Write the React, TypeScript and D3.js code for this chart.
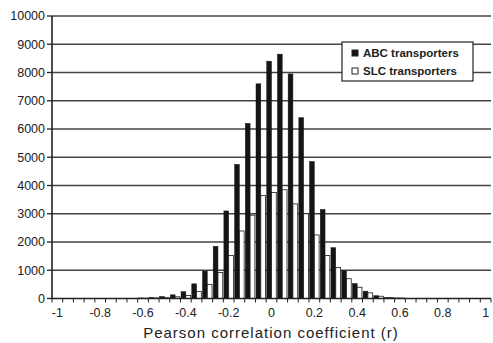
import React from 'react';
import * as d3 from 'd3';

// bin centres of Pearson r, step 0.05
const bins = [
  -1, -0.95, -0.9, -0.85, -0.8, -0.75, -0.7, -0.65, -0.6, -0.55, -0.5, -0.45, -0.4, -0.35,
  -0.3, -0.25, -0.2, -0.15, -0.1, -0.05, 0, 0.05, 0.1, 0.15, 0.2, 0.25, 0.3, 0.35, 0.4,
  0.45, 0.5, 0.55, 0.6, 0.65, 0.7, 0.75, 0.8, 0.85, 0.9, 0.95, 1,
];
const abcCounts = [
  0, 0, 0, 0, 0, 0, 0, 5, 20, 40, 70, 130, 240, 520,
  970, 1850, 3100, 4750, 6200, 7600, 8400, 8650, 7950, 6400, 4850, 3150, 1800, 980, 530,
  260, 100, 40, 20, 5, 0, 0, 0, 0, 0, 0, 0,
];
const slcCounts = [
  0, 0, 0, 0, 0, 0, 0, 3, 10, 20, 30, 60, 110, 250,
  500, 920, 1520, 2390, 2950, 3650, 3750, 3850, 3350, 3000, 2250, 1520, 1100, 700, 400,
  200, 80, 30, 15, 3, 0, 0, 0, 0, 0, 0, 0,
];
const seriesNames = ['ABC transporters', 'SLC transporters'];
const yTicks = [0, 1000, 2000, 3000, 4000, 5000, 6000, 7000, 8000, 9000, 10000];
const xLabels = ['-1', '-0.8', '-0.6', '-0.4', '-0.2', '0', '0.2', '0.4', '0.6', '0.8', '1'];

const W = 493;
const H = 343;
const margin = { left: 52, right: 2, top: 16, bottom: 44.5 };
const font = 'Arial, "Liberation Sans", sans-serif';

export default function App() {
  const x0 = d3.scaleBand<number>()
    .domain(d3.range(bins.length))
    .range([margin.left, W - margin.right])
    .padding(0);
  const groupW = x0.bandwidth() / 1.12;
  const x1 = d3.scaleBand<string>()
    .domain(seriesNames)
    .range([(x0.bandwidth() - groupW) / 2, (x0.bandwidth() + groupW) / 2]);
  const y = d3.scaleLinear().domain([0, 10000]).range([H - margin.bottom, margin.top]);

  const plotL = margin.left;
  const plotR = W - margin.right;
  const baseY = y(0);
  const series = [abcCounts, slcCounts];

  return (
    <svg width={W} height={H} style={{ position: 'absolute', left: 0, top: 0, background: '#fff' }}>
      {/* grid lines */}
      {yTicks.filter((t) => t > 0).map((t) => (
        <line key={t} x1={plotL} x2={plotR} y1={y(t)} y2={y(t)} stroke="#444" strokeWidth={1.5} />
      ))}
      {/* bars */}
      {bins.map((b, i) => (
        <g key={b} transform={`translate(${x0(i)},0)`}>
          {series.map((vals, s) => {
            const v = vals[i];
            if (v <= 0) return null;
            return (
              <rect
                key={s}
                x={x1(seriesNames[s])}
                y={y(v)}
                width={x1.bandwidth()}
                height={baseY - y(v)}
                fill={s === 0 ? '#141414' : '#ffffff'}
                stroke="#1a1a1a"
                strokeWidth={s === 0 ? 0.5 : 0.8}
              />
            );
          })}
        </g>
      ))}
      {/* y axis */}
      <line x1={plotL} x2={plotL} y1={y(10000)} y2={baseY} stroke="#222" strokeWidth={1.6} />
      {yTicks.map((t) => (
        <g key={t}>
          <line x1={plotL - 5} x2={plotL} y1={y(t)} y2={y(t)} stroke="#222" strokeWidth={1.3} />
          <text x={plotL - 7} y={y(t) + 4.3} textAnchor="end" fontFamily={font} fontSize={12.5} fill="#222">
            {t}
          </text>
        </g>
      ))}
      {/* x axis */}
      <line x1={plotL} x2={plotR} y1={baseY} y2={baseY} stroke="#222" strokeWidth={1.6} />
      {d3.range(bins.length + 1).map((i) => {
        const xx = i < bins.length ? (x0(i) as number) : plotR;
        return <line key={i} x1={xx} x2={xx} y1={baseY} y2={baseY + 4} stroke="#222" strokeWidth={1} />;
      })}
      {xLabels.map((lab, k) => {
        const i = k * 4;
        return (
          <text
            key={lab}
            x={(x0(i) as number) + x0.bandwidth() / 2}
            y={317}
            textAnchor="middle"
            fontFamily={font}
            fontSize={12.5}
            fill="#222"
          >
            {lab}
          </text>
        );
      })}
      <text x={271} y={338} textAnchor="middle" fontFamily={font} fontSize={15} letterSpacing={1} fill="#222">
        Pearson correlation coefficient (r)
      </text>
      {/* legend */}
      <g>
        <rect x={342} y={42} width={131} height={39} fill="#fff" stroke="#222" strokeWidth={1.2} />
        {seriesNames.map((name, s) => (
          <g key={name} transform={`translate(0,${s * 18})`}>
            <rect x={352} y={50} width={6} height={6} fill={s === 0 ? '#141414' : '#fff'} stroke="#222" strokeWidth={1} />
            <text x={363} y={57} fontFamily={font} fontSize={11.5} fontWeight="bold" fill="#222">
              {name}
            </text>
          </g>
        ))}
      </g>
    </svg>
  );
}
